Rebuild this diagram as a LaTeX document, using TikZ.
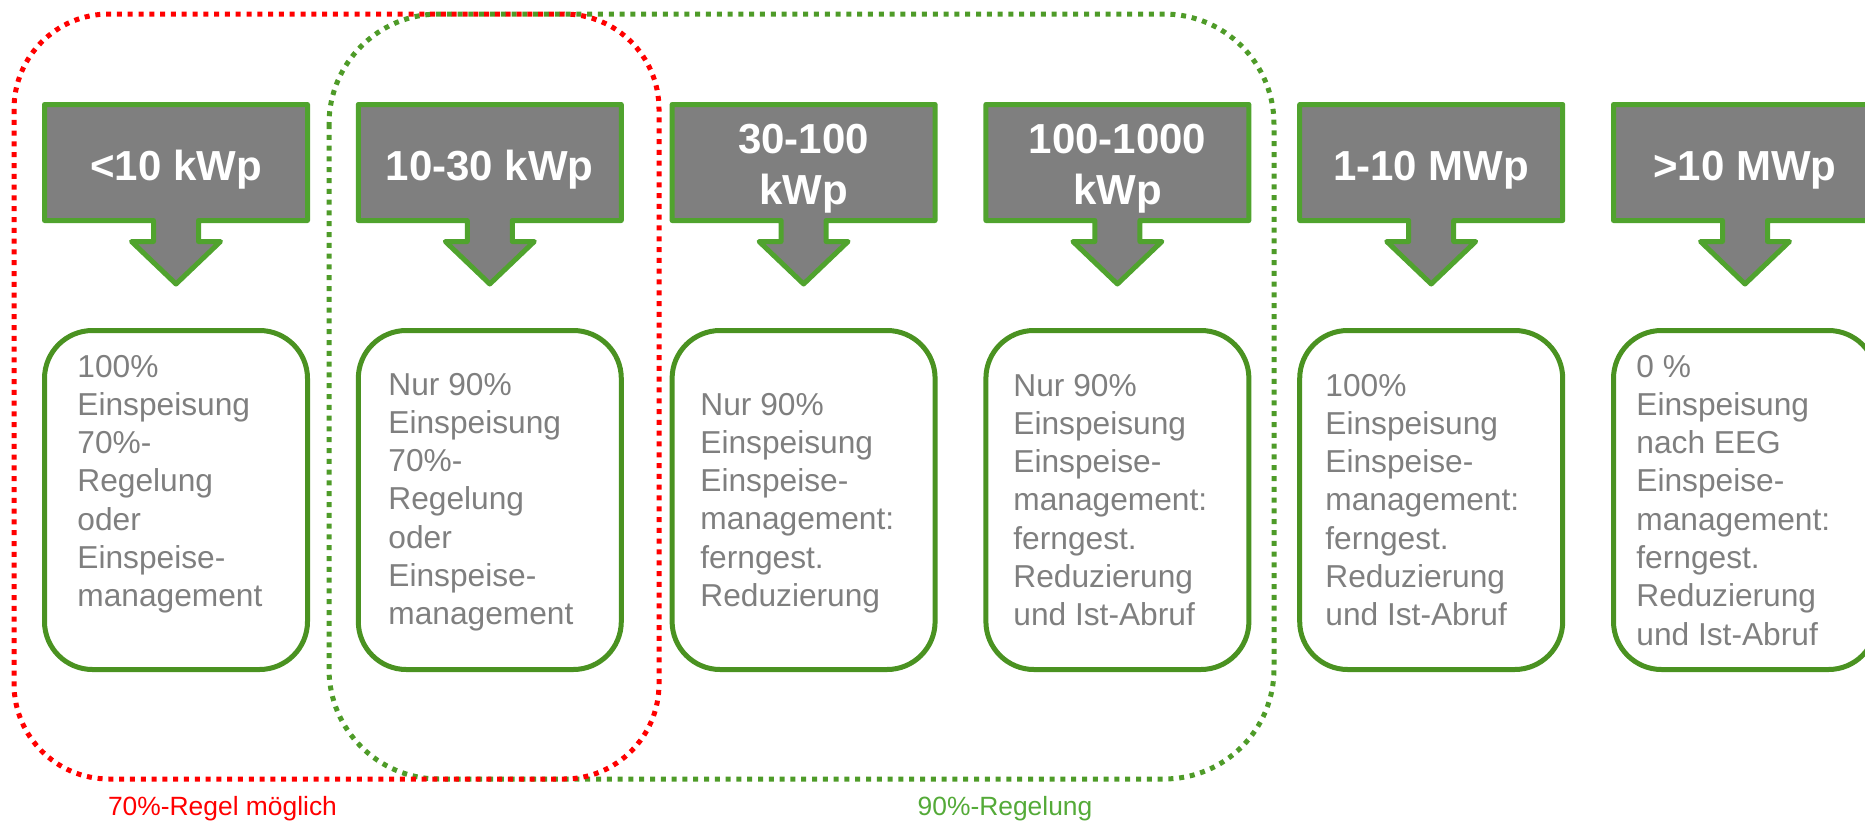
\documentclass[tikz,border=0pt]{standalone}
\usepackage{fontspec}
\setmainfont{Liberation Sans}
\definecolor{hdrgreen}{RGB}{80,163,46}
\definecolor{boxgreen}{RGB}{74,146,33}
\definecolor{dotgreen}{RGB}{78,155,40}
\definecolor{lblgreen}{RGB}{84,170,56}
\definecolor{fillgray}{RGB}{127,127,127}
\definecolor{txtgray}{RGB}{127,127,127}
\tikzset{
  hdrshape/.style={fill=fillgray, draw=hdrgreen, line width=2.5pt, line join=round},
  hdrtext/.style={text=white, font=\fontsize{21pt}{25.5pt}\selectfont\bfseries, inner sep=0pt, anchor=base},
  infobox/.style={draw=boxgreen, line width=2.5pt, rounded corners=24pt, minimum width=131.5pt, minimum height=169.5pt, inner sep=0pt},
  infotext/.style={text=txtgray, font=\fontsize{15.85pt}{19.15pt}\selectfont, inner sep=0pt, anchor=base west},
  reddots/.style={draw=red, line width=2.5pt, dash pattern=on 2.5pt off 2.9pt, rounded corners=47.5pt},
  greendots/.style={draw=dotgreen, line width=2.5pt, dash pattern=on 2.5pt off 2.9pt, rounded corners=55pt},
  lbl/.style={font=\fontsize{13.2pt}{15pt}\selectfont, inner sep=0pt, anchor=base}
}
\newcommand\infolines[1]{\parbox[t]{150pt}{\raggedright #1}}
\begin{document}
\begin{tikzpicture}[x=0.5pt,y=-0.5pt]
\useasboundingbox (0,0) rectangle (1865,820);
\clip (0,0) rectangle (1865,820);
% group frames
\draw[greendots] (329,14) rectangle (1274,779);
\draw[reddots] (14,14) rectangle (659,779);
% headers with arrows and content boxes
\foreach \i in {0,...,5}{
  \pgfmathsetmacro\L{42+313.8*\i}
  \pgfmathsetmacro\cx{\L+134}
  \draw[hdrshape] ({\L+2.5},104.5) -- ({\L+265.5},104.5) -- ({\L+265.5},220.5)
    -- ({\cx+22.5},220.5) -- ({\cx+22.5},241.5) -- ({\cx+44.5},241.5) -- (\cx,284)
    -- ({\cx-44.5},241.5) -- ({\cx-22.5},241.5) -- ({\cx-22.5},220.5)
    -- ({\L+2.5},220.5) -- cycle;
  \node[infobox] (box\i) at (\cx,500) {};
}
% header texts
\node[hdrtext] (h0) at (176,180) {<10 kWp};
\node[hdrtext] (h1) at (489.8,180) {10-30 kWp};
\node[hdrtext] (h2) at (803.6,153) {\parbox[t]{134pt}{\centering 30-100\\kWp}};
\node[hdrtext] (h3) at (1117.4,153) {\parbox[t]{134pt}{\centering 100-1000\\kWp}};
\node[hdrtext] (h4) at (1431.2,180) {1-10 MWp};
\node[hdrtext] (h5) at (1745,180) {>10 MWp};
% content texts
\node[infotext] (t0) at (77,377) {\infolines{100\%\\Einspeisung\\70\%-\\Regelung\\oder\\Einspeise-\\management}};
\node[infotext] (t1) at (388,395) {\infolines{Nur 90\%\\Einspeisung\\70\%-\\Regelung\\oder\\Einspeise-\\management}};
\node[infotext] (t2) at (700,415) {\infolines{Nur 90\%\\Einspeisung\\Einspeise-\\management:\\ferngest.\\Reduzierung}};
\node[infotext] (t3) at (1013,396) {\infolines{Nur 90\%\\Einspeisung\\Einspeise-\\management:\\ferngest.\\Reduzierung\\und Ist-Abruf}};
\node[infotext] (t4) at (1325,396) {\infolines{100\%\\Einspeisung\\Einspeise-\\management:\\ferngest.\\Reduzierung\\und Ist-Abruf}};
\node[infotext] (t5) at (1636,377) {\infolines{0 \%\\Einspeisung\\nach EEG\\Einspeise-\\management:\\ferngest.\\Reduzierung\\und Ist-Abruf}};
% labels
\node[lbl, text=red] (l70) at (222.5,815) {70\%-Regel möglich};
\node[lbl, text=lblgreen] (l90) at (1005,815) {90\%-Regelung};
\end{tikzpicture}
\end{document}
